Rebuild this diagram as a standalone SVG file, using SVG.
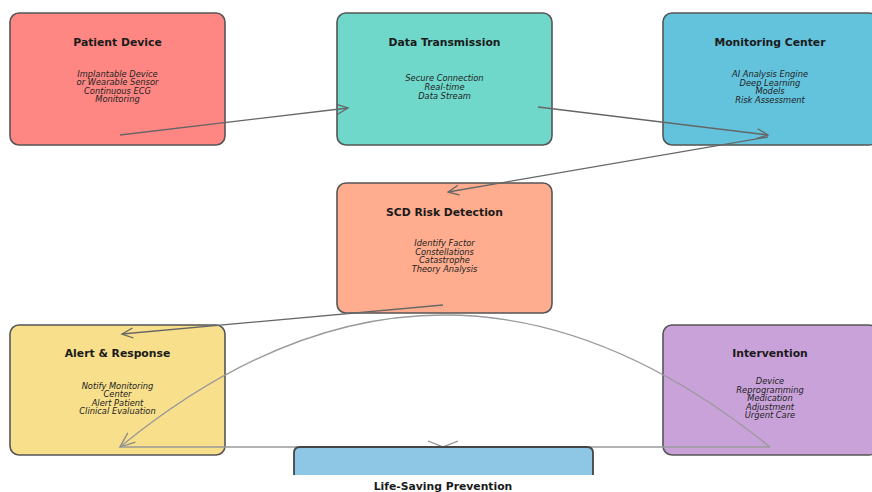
<svg xmlns="http://www.w3.org/2000/svg" width="872" height="492" viewBox="0 0 872 492">
  <style>
    .box { stroke: #555; stroke-width: 1.6; }
    .title { font-family: "DejaVu Sans", Verdana, sans-serif; font-weight: bold; font-size: 10.8px; fill: #1a1a1a; text-anchor: middle; }
    .body { font-family: "DejaVu Sans", Verdana, sans-serif; font-style: italic; font-size: 8.3px; fill: #222; text-anchor: middle; }
    .edge { fill: none; stroke: #666; stroke-width: 1.3; }
    .edge-light { fill: none; stroke: #9a9a9a; stroke-width: 1.3; }
  </style>
  <defs>
    <marker id="arrow" markerUnits="userSpaceOnUse" markerWidth="14" markerHeight="12" refX="12" refY="6" orient="auto">
      <path d="M1,1 L12,6 L1,11" fill="none" stroke="#666" stroke-width="1.3"/>
    </marker>
    <marker id="arrow-light" markerUnits="userSpaceOnUse" markerWidth="18" markerHeight="14" refX="16" refY="7" orient="auto">
      <path d="M1,1 L16,7 L1,13" fill="none" stroke="#8a8a8a" stroke-width="1.3"/>
    </marker>
  </defs>
  <rect width="872" height="492" fill="#ffffff"/>

  <g id="patient-device">
    <rect class="box" x="10" y="13" width="215" height="132" rx="9" fill="#FF8783"/>
    <text class="title" x="117.5" y="46">Patient Device</text>
    <text class="body" x="117.5" y="76.5">Implantable Device</text>
    <text class="body" x="117.5" y="85">or Wearable Sensor</text>
    <text class="body" x="117.5" y="93.5">Continuous ECG</text>
    <text class="body" x="117.5" y="102">Monitoring</text>
  </g>

  <g id="data-transmission">
    <rect class="box" x="337" y="13" width="215" height="132" rx="9" fill="#6FD8CB"/>
    <text class="title" x="444.5" y="46">Data Transmission</text>
    <text class="body" x="444.5" y="81">Secure Connection</text>
    <text class="body" x="444.5" y="90">Real-time</text>
    <text class="body" x="444.5" y="99">Data Stream</text>
  </g>

  <g id="monitoring-center">
    <rect class="box" x="663" y="13" width="215" height="132" rx="9" fill="#63C3DD"/>
    <text class="title" x="770" y="46">Monitoring Center</text>
    <text class="body" x="770" y="77">AI Analysis Engine</text>
    <text class="body" x="770" y="85.5">Deep Learning</text>
    <text class="body" x="770" y="94">Models</text>
    <text class="body" x="770" y="102.5">Risk Assessment</text>
  </g>

  <g id="scd-risk-detection">
    <rect class="box" x="337" y="183" width="215" height="130" rx="9" fill="#FFAD8E"/>
    <text class="title" x="444.5" y="216">SCD Risk Detection</text>
    <text class="body" x="444.5" y="246">Identify Factor</text>
    <text class="body" x="444.5" y="254.5">Constellations</text>
    <text class="body" x="444.5" y="263">Catastrophe</text>
    <text class="body" x="444.5" y="271.5">Theory Analysis</text>
  </g>

  <g id="alert-response">
    <rect class="box" x="10" y="325" width="215" height="130" rx="9" fill="#F7DF8B"/>
    <text class="title" x="117.5" y="357">Alert &amp; Response</text>
    <text class="body" x="117.5" y="388.5">Notify Monitoring</text>
    <text class="body" x="117.5" y="397">Center</text>
    <text class="body" x="117.5" y="405.5">Alert Patient</text>
    <text class="body" x="117.5" y="414">Clinical Evaluation</text>
  </g>

  <g id="intervention">
    <rect class="box" x="663" y="325" width="215" height="130" rx="9" fill="#C9A2D9"/>
    <text class="title" x="770" y="357">Intervention</text>
    <text class="body" x="770" y="384">Device</text>
    <text class="body" x="770" y="392.5">Reprogramming</text>
    <text class="body" x="770" y="401">Medication</text>
    <text class="body" x="770" y="409.5">Adjustment</text>
    <text class="body" x="770" y="418">Urgent Care</text>
  </g>

  <g id="connectors">
    <line class="edge" x1="120" y1="135" x2="348" y2="108" marker-end="url(#arrow)"/>
    <line class="edge" x1="538" y1="107" x2="768" y2="135" marker-end="url(#arrow)"/>
    <line class="edge" x1="768" y1="137" x2="448" y2="192" marker-end="url(#arrow)"/>
    <line class="edge" x1="443" y1="305" x2="122" y2="334" marker-end="url(#arrow)"/>
    <path class="edge-light" d="M770,447 Q443,183 120,447" marker-end="url(#arrow-light)"/>
    <line class="edge-light" x1="120" y1="447" x2="443" y2="447" marker-end="url(#arrow-light)"/>
    <line class="edge-light" x1="770" y1="447" x2="443" y2="447" marker-end="url(#arrow-light)"/>
  </g>

  <g id="life-saving-prevention">
    <path d="M294,475 V453 Q294,447 300,447 H587 Q593,447 593,453 V475" fill="#8EC6E6" stroke="#444" stroke-width="1.8"/>
    <text class="title" x="443" y="490">Life-Saving Prevention</text>
  </g>
</svg>
